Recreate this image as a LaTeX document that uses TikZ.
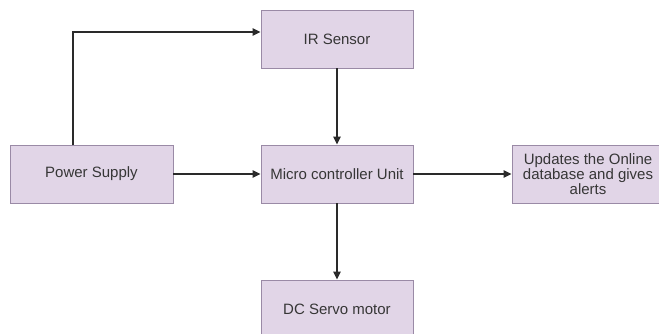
\documentclass[tikz,border=0pt]{standalone}
\usepackage{fontspec}
\setmainfont{Liberation Sans}
\usetikzlibrary{arrows.meta}
\definecolor{boxfill}{HTML}{E1D5E7}
\definecolor{boxline}{HTML}{9A8AA6}
\definecolor{textgray}{HTML}{363636}
\definecolor{wire}{HTML}{2A2A2A}
\begin{document}
\begin{tikzpicture}[x=1pt,y=-1pt,
  block/.style={draw=boxline,fill=boxfill,line width=0.9pt,inner sep=0pt,
    minimum width=152pt,minimum height=58pt,align=center,
    text=textgray,font=\fontsize{15}{13}\selectfont},
  link/.style={draw=wire,line width=1.3pt,-{Triangle[length=8pt,width=7.5pt]}}]
\useasboundingbox (0,0) rectangle (659,334);
\fill[white] (0,0) rectangle (659,334);
\begin{scope}
\clip (0,0) rectangle (659,334);
\node[block,minimum width=163pt] (power) at (91.5,174) {Power Supply};
\node[block] (ir) at (337,39) {IR Sensor};
\node[block] (mcu) at (337,174) {Micro controller Unit};
\node[block] (upd) at (588,174) {Updates the Online\\database and gives\\alerts};
\node[block] (servo) at (337,309) {DC Servo motor};

\draw[link] ([xshift=-18.5pt]power.north) |- ([yshift=7pt]ir.west);
\draw[link] (ir.south) -- (mcu.north);
\draw[link] (power.east) -- (mcu.west);
\draw[link] (mcu.east) -- (upd.west);
\draw[link] (mcu.south) -- (servo.north);
\end{scope}
\end{tikzpicture}
\end{document}
